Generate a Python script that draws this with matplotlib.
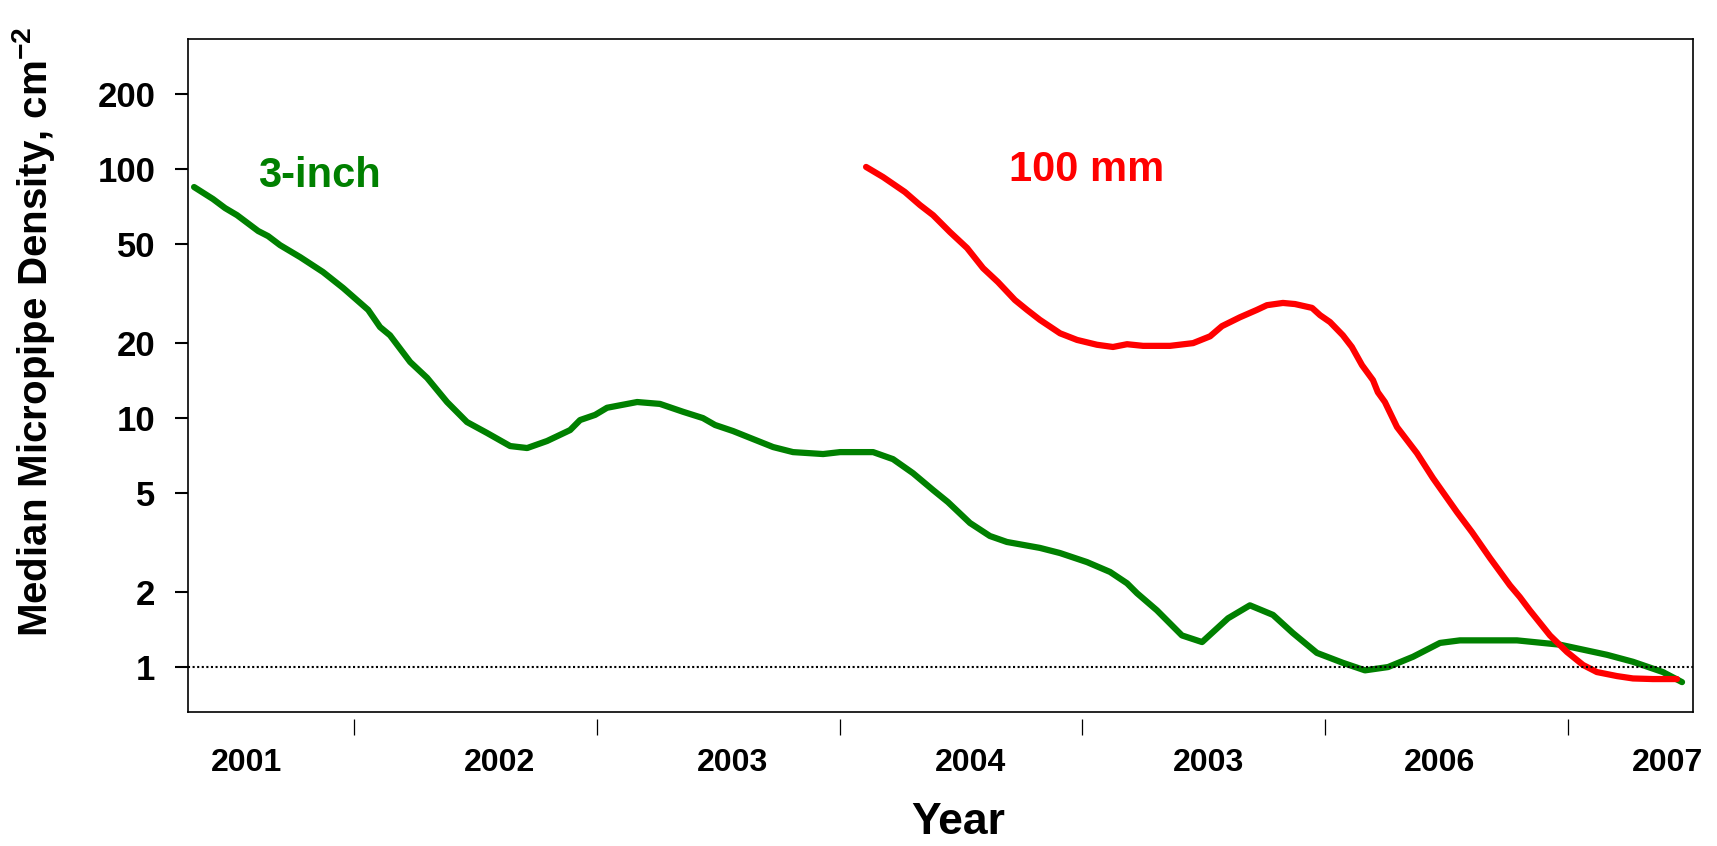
import numpy as np
import matplotlib.pyplot as plt
from matplotlib.lines import Line2D

plt.rcParams['font.family'] = ['Liberation Sans', 'DejaVu Sans']
plt.rcParams['font.weight'] = 'bold'
plt.rcParams['axes.labelweight'] = 'bold'
plt.rcParams['mathtext.fontset'] = 'custom'
plt.rcParams['mathtext.rm'] = 'Liberation Sans:bold'
plt.rcParams['mathtext.bf'] = 'Liberation Sans:bold'
plt.rcParams['mathtext.it'] = 'Liberation Sans:bold'

# 3-inch wafers: time (decimal year) and median micropipe density (cm^-2)
t_3in = [2001.341, 2001.419, 2001.469, 2001.518, 2001.605, 2001.646, 2001.695,
         2001.778, 2001.872, 2001.955, 2002.058, 2002.107, 2002.148, 2002.231,
         2002.301, 2002.383, 2002.465, 2002.548, 2002.643, 2002.713, 2002.795,
         2002.890, 2002.931, 2002.993, 2003.042, 2003.166, 2003.260, 2003.355,
         2003.437, 2003.487, 2003.561, 2003.643, 2003.726, 2003.808, 2003.932,
         2004.002, 2004.138, 2004.220, 2004.302, 2004.385, 2004.446, 2004.537,
         2004.619, 2004.689, 2004.825, 2004.908, 2005.019, 2005.114, 2005.184,
         2005.225, 2005.307, 2005.410, 2005.493, 2005.600, 2005.690, 2005.785,
         2005.867, 2005.966, 2006.073, 2006.164, 2006.259, 2006.362, 2006.473,
         2006.555, 2006.790, 2006.967, 2007.161, 2007.268, 2007.391, 2007.470]
d_3in = [84.7, 75.8, 69.7, 65.3, 56.4, 53.8, 49.5,
         44.3, 38.6, 33.3, 27.2, 23.2, 21.5, 16.8,
         14.5, 11.6, 9.64, 8.71, 7.72, 7.58, 8.09,
         8.95, 9.82, 10.3, 11.0, 11.6, 11.4, 10.6,
         10.0, 9.38, 8.87, 8.24, 7.65, 7.30, 7.17,
         7.30, 7.30, 6.84, 6.01, 5.14, 4.60, 3.79,
         3.36, 3.18, 3.01, 2.87, 2.64, 2.41, 2.17,
         1.98, 1.69, 1.34, 1.26, 1.57, 1.77, 1.62,
         1.37, 1.14, 1.04, 0.97, 1.00, 1.10, 1.25,
         1.28, 1.28, 1.23, 1.12, 1.05, 0.955, 0.87]

# 100 mm wafers
t_100 = [2004.109, 2004.179, 2004.269, 2004.331, 2004.385, 2004.455, 2004.525,
         2004.591, 2004.652, 2004.722, 2004.772, 2004.825, 2004.908, 2004.978,
         2005.060, 2005.126, 2005.184, 2005.250, 2005.361, 2005.456, 2005.526,
         2005.575, 2005.649, 2005.719, 2005.760, 2005.826, 2005.876, 2005.946,
         2005.979, 2006.020, 2006.073, 2006.110, 2006.152, 2006.197, 2006.217,
         2006.246, 2006.296, 2006.378, 2006.444, 2006.543, 2006.605, 2006.679,
         2006.761, 2006.802, 2006.843, 2006.926, 2006.996, 2007.062, 2007.119,
         2007.202, 2007.268, 2007.350, 2007.449]
d_100 = [102, 92.9, 80.9, 71.7, 65.3, 55.8, 48.2,
         40.0, 35.2, 29.8, 27.2, 24.8, 21.9, 20.6,
         19.7, 19.3, 19.8, 19.5, 19.5, 20.0, 21.3,
         23.4, 25.4, 27.2, 28.4, 29.0, 28.7, 27.7,
         25.9, 24.3, 21.5, 19.3, 16.3, 14.2, 12.7,
         11.6, 9.20, 7.23, 5.74, 4.19, 3.48, 2.74,
         2.13, 1.91, 1.69, 1.34, 1.15, 1.02, 0.955,
         0.92, 0.90, 0.895, 0.895]

year_ticks = [2002, 2003, 2004, 2005, 2006, 2007]
year_label_pos = [2001.555, 2002.60, 2003.56, 2004.54, 2005.52, 2006.47, 2007.41]
year_labels = ['2001', '2002', '2003', '2004', '2003', '2006', '2007']
y_ticks = [1, 2, 5, 10, 20, 50, 100, 200]

fig = plt.figure(figsize=(17.17, 8.46), dpi=100)
ax = fig.add_axes([0.1095, 0.1584, 0.8765, 0.7955])

ax.plot(t_3in, d_3in, color='#008000', lw=4.5, solid_capstyle='round',
        solid_joinstyle='round')
ax.plot(t_100, d_100, color='#ff0000', lw=4.5, solid_capstyle='round',
        solid_joinstyle='round')
ax.axhline(1, color='black', lw=1.5, linestyle=(0, (1, 1.2)))

ax.set_yscale('log')
ax.set_ylim(0.66, 333)
ax.set_xlim(2001.316, 2007.515)

ax.set_yticks(y_ticks)
ax.set_yticklabels([str(v) for v in y_ticks])
ax.minorticks_off()
ax.tick_params(axis='y', direction='out', length=9.5, width=1.5, pad=14,
               labelsize=25)

# year boundaries as tick marks, year names centred between them
ax.set_xticks(year_ticks)
ax.set_xticklabels([])
ax.tick_params(axis='x', which='major', direction='out', length=11.5, width=0.9)
ax.set_xticks(year_label_pos, minor=True)
ax.set_xticklabels(year_labels, minor=True)
ax.tick_params(axis='x', which='minor', length=0, pad=21, labelsize=23)
ax.get_xticklabels(minor=True)[-1].set_y(0.01)

# tick marks hang a little below the frame
ax.spines['bottom'].set_position(('outward', 5))
ax.spines['bottom'].set_color('none')
ax.add_line(Line2D([0, 1], [0, 0], transform=ax.transAxes, color='black',
                   lw=1.2, clip_on=False))
for side in ['left', 'right', 'top']:
    ax.spines[side].set_linewidth(1.2)

ax.text(2001.605, 84.7, '3-inch', color='#008000', fontsize=30,
        ha='left', va='baseline')
ax.text(2004.698, 89.5, '100 mm', color='#ff0000', fontsize=30,
        ha='left', va='baseline')

ax.set_ylabel('Median Micropipe Density, cm$^{-2}$', fontsize=29,
              fontweight='bold')
ax.yaxis.set_label_coords(-0.087, 0.565)
fig.text(958 / 1717, 0.014, 'Year', fontsize=32, ha='center', va='baseline')

fig.savefig('out.png', dpi=100)
